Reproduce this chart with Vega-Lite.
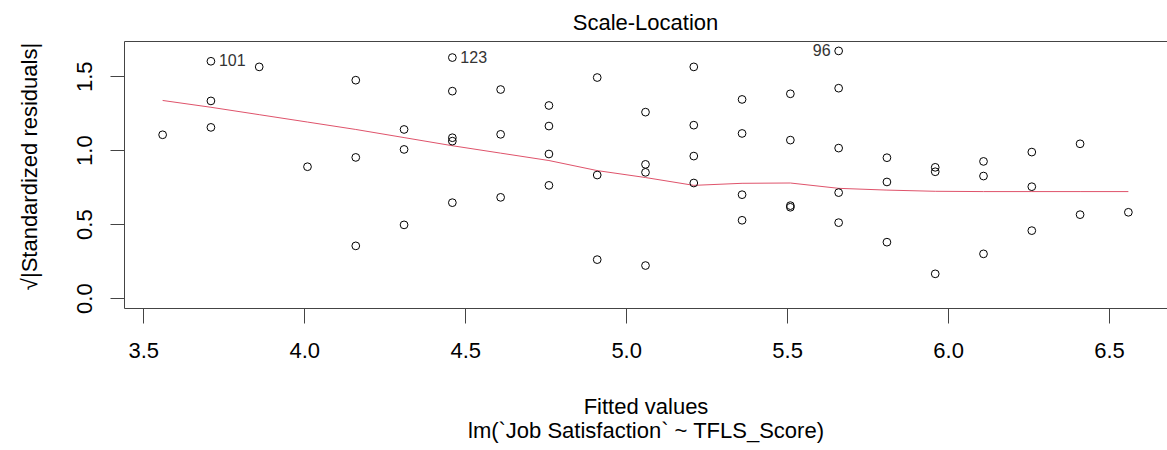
{
  "$schema": "https://vega.github.io/schema/vega-lite/v6.json",
  "width": 1043,
  "height": 267,
  "autosize": {"type": "none"},
  "padding": {"left": 124, "top": 41, "right": 0, "bottom": 142},
  "title": {"text": "Scale-Location", "fontSize": 22, "fontWeight": "normal", "font": "Liberation Sans", "baseline": "alphabetic", "offset": -11, "anchor": "middle", "color": "#000"},
  "config": {"view": {"stroke": "#444", "strokeWidth": 1}, "font": "Liberation Sans"},
  "datasets": {
    "pts": [
      {"fitted": 3.56, "sr": 1.104, "label": ""},
      {"fitted": 3.71, "sr": 1.601, "label": "101"},
      {"fitted": 3.71, "sr": 1.333, "label": ""},
      {"fitted": 3.71, "sr": 1.154, "label": ""},
      {"fitted": 3.86, "sr": 1.563, "label": ""},
      {"fitted": 4.01, "sr": 0.888, "label": ""},
      {"fitted": 4.16, "sr": 1.473, "label": ""},
      {"fitted": 4.16, "sr": 0.951, "label": ""},
      {"fitted": 4.16, "sr": 0.353, "label": ""},
      {"fitted": 4.31, "sr": 1.140, "label": ""},
      {"fitted": 4.31, "sr": 1.005, "label": ""},
      {"fitted": 4.31, "sr": 0.495, "label": ""},
      {"fitted": 4.46, "sr": 1.626, "label": "123"},
      {"fitted": 4.46, "sr": 1.399, "label": ""},
      {"fitted": 4.46, "sr": 1.084, "label": ""},
      {"fitted": 4.46, "sr": 1.061, "label": ""},
      {"fitted": 4.46, "sr": 0.645, "label": ""},
      {"fitted": 4.61, "sr": 1.410, "label": ""},
      {"fitted": 4.61, "sr": 1.107, "label": ""},
      {"fitted": 4.61, "sr": 0.681, "label": ""},
      {"fitted": 4.76, "sr": 1.302, "label": ""},
      {"fitted": 4.76, "sr": 1.163, "label": ""},
      {"fitted": 4.76, "sr": 0.974, "label": ""},
      {"fitted": 4.76, "sr": 0.762, "label": ""},
      {"fitted": 4.91, "sr": 1.491, "label": ""},
      {"fitted": 4.91, "sr": 0.832, "label": ""},
      {"fitted": 4.91, "sr": 0.260, "label": ""},
      {"fitted": 5.06, "sr": 1.257, "label": ""},
      {"fitted": 5.06, "sr": 0.904, "label": ""},
      {"fitted": 5.06, "sr": 0.850, "label": ""},
      {"fitted": 5.06, "sr": 0.220, "label": ""},
      {"fitted": 5.21, "sr": 1.563, "label": ""},
      {"fitted": 5.21, "sr": 1.169, "label": ""},
      {"fitted": 5.21, "sr": 0.960, "label": ""},
      {"fitted": 5.21, "sr": 0.778, "label": ""},
      {"fitted": 5.36, "sr": 1.343, "label": ""},
      {"fitted": 5.36, "sr": 1.113, "label": ""},
      {"fitted": 5.36, "sr": 0.699, "label": ""},
      {"fitted": 5.36, "sr": 0.526, "label": ""},
      {"fitted": 5.51, "sr": 1.381, "label": ""},
      {"fitted": 5.51, "sr": 1.068, "label": ""},
      {"fitted": 5.51, "sr": 0.625, "label": ""},
      {"fitted": 5.51, "sr": 0.614, "label": ""},
      {"fitted": 5.66, "sr": 1.671, "label": "96"},
      {"fitted": 5.66, "sr": 1.419, "label": ""},
      {"fitted": 5.66, "sr": 1.014, "label": ""},
      {"fitted": 5.66, "sr": 0.713, "label": ""},
      {"fitted": 5.66, "sr": 0.510, "label": ""},
      {"fitted": 5.81, "sr": 0.949, "label": ""},
      {"fitted": 5.81, "sr": 0.785, "label": ""},
      {"fitted": 5.81, "sr": 0.378, "label": ""},
      {"fitted": 5.96, "sr": 0.884, "label": ""},
      {"fitted": 5.96, "sr": 0.854, "label": ""},
      {"fitted": 5.96, "sr": 0.164, "label": ""},
      {"fitted": 6.11, "sr": 0.924, "label": ""},
      {"fitted": 6.11, "sr": 0.825, "label": ""},
      {"fitted": 6.11, "sr": 0.299, "label": ""},
      {"fitted": 6.26, "sr": 0.987, "label": ""},
      {"fitted": 6.26, "sr": 0.753, "label": ""},
      {"fitted": 6.26, "sr": 0.456, "label": ""},
      {"fitted": 6.41, "sr": 1.043, "label": ""},
      {"fitted": 6.41, "sr": 0.564, "label": ""},
      {"fitted": 6.56, "sr": 0.580, "label": ""}
    ],
    "smooth": [
      {"fitted": 3.56, "sr": 1.336},
      {"fitted": 3.71, "sr": 1.290},
      {"fitted": 3.86, "sr": 1.240},
      {"fitted": 4.01, "sr": 1.190},
      {"fitted": 4.16, "sr": 1.140},
      {"fitted": 4.31, "sr": 1.085},
      {"fitted": 4.46, "sr": 1.030},
      {"fitted": 4.61, "sr": 0.980},
      {"fitted": 4.76, "sr": 0.930},
      {"fitted": 4.91, "sr": 0.862},
      {"fitted": 5.06, "sr": 0.815},
      {"fitted": 5.21, "sr": 0.762},
      {"fitted": 5.36, "sr": 0.776},
      {"fitted": 5.51, "sr": 0.778},
      {"fitted": 5.66, "sr": 0.742},
      {"fitted": 5.81, "sr": 0.730},
      {"fitted": 5.96, "sr": 0.722},
      {"fitted": 6.11, "sr": 0.720},
      {"fitted": 6.26, "sr": 0.720},
      {"fitted": 6.41, "sr": 0.720},
      {"fitted": 6.56, "sr": 0.720}
    ]
  },
  "encoding": {
    "x": {
      "field": "fitted", "type": "quantitative",
      "scale": {"domain": [3.44, 6.68], "nice": false, "zero": false},
      "axis": {
        "values": [3.5, 4.0, 4.5, 5.0, 5.5, 6.0, 6.5], "format": ".1f",
        "domain": false, "grid": false, "tickSize": 15, "tickColor": "#444",
        "labelPadding": 17, "labelFontSize": 22, "labelColor": "#000", "labelFont": "Liberation Sans", "labelFlush": false,
        "title": ["Fitted values", "lm(`Job Satisfaction` ~ TFLS_Score)"],
        "titleFontSize": 22, "titleFontWeight": "normal", "titleColor": "#000", "titleFont": "Liberation Sans",
        "titleBaseline": "alphabetic", "titleAlign": "center", "titleX": 521.5, "titleY": 105, "titleLineHeight": 24
      }
    },
    "y": {
      "field": "sr", "type": "quantitative",
      "scale": {"domain": [-0.067, 1.738], "nice": false, "zero": false},
      "axis": {
        "values": [0, 0.5, 1.0, 1.5], "format": ".1f",
        "domain": false, "grid": false, "tickSize": 14, "tickColor": "#444",
        "labelAngle": -90, "labelAlign": "center", "labelBaseline": "alphabetic", "labelPadding": 19,
        "labelFontSize": 22, "labelColor": "#000", "labelFont": "Liberation Sans", "labelFlush": false,
        "title": "√|Standardized residuals|",
        "titleFontSize": 22, "titleFontWeight": "normal", "titleColor": "#000", "titleFont": "Liberation Sans",
        "titleAngle": -90, "titleBaseline": "alphabetic", "titleAlign": "center", "titleX": -88, "titleY": 125
      }
    }
  },
  "layer": [
    {
      "data": {"name": "smooth"},
      "mark": {"type": "line", "color": "#DF536B", "strokeWidth": 1}
    },
    {
      "data": {"name": "pts"},
      "mark": {"type": "point", "shape": "circle", "filled": false, "size": 60, "stroke": "#000", "strokeWidth": 1, "opacity": 1}
    },
    {
      "data": {"name": "pts"},
      "transform": [{"filter": "datum.label === '101' || datum.label === '123'"}],
      "mark": {"type": "text", "align": "left", "baseline": "middle", "dx": 8, "fontSize": 16, "color": "#333", "font": "Liberation Sans"},
      "encoding": {"text": {"field": "label"}}
    },
    {
      "data": {"name": "pts"},
      "transform": [{"filter": "datum.label === '96'"}],
      "mark": {"type": "text", "align": "right", "baseline": "middle", "dx": -8, "fontSize": 16, "color": "#333", "font": "Liberation Sans"},
      "encoding": {"text": {"field": "label"}}
    }
  ]
}
